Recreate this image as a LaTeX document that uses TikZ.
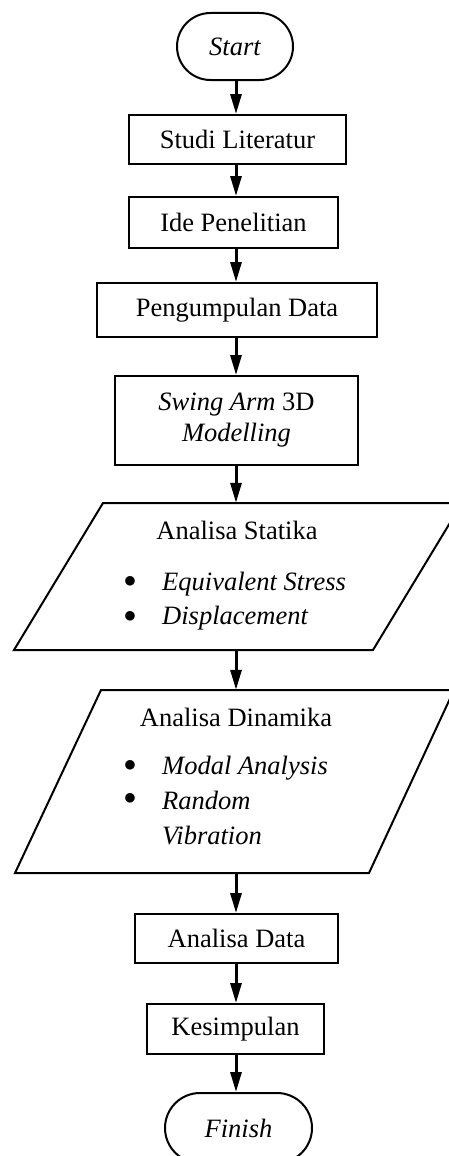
\documentclass[tikz,border=0pt]{standalone}
\usepackage{fontspec}
\setmainfont{Liberation Serif}
\usetikzlibrary{arrows.meta}
\begin{document}
\begin{tikzpicture}[x=1pt,y=-1pt,
  txtbase/.style={font=\fontsize{26.5}{31}\selectfont, inner sep=0pt},
  box/.style={txtbase, draw, line width=2pt, rectangle},
  term/.style={box, font=\fontsize{26.5}{31}\selectfont\itshape},
  flow/.style={-{Triangle[length=20pt,width=11pt]}, line width=3pt},
  para/.style={line width=2pt, line join=miter},
  itemtxt/.style={txtbase, anchor=base west, font=\fontsize{26.5}{31}\selectfont\itshape},
  bul/.style={txtbase, anchor=center, font=\fontsize{32}{32}\selectfont},
  ttl/.style={txtbase, anchor=base}]
\useasboundingbox (0,0) rectangle (449,1156);
\coordinate (axis) at (236,0);

\node[term, minimum width=116pt, minimum height=67pt, rounded corners=33.5pt] (start) at (235,46.5) {Start};
\node[box, minimum width=217pt, minimum height=49pt] (studi) at (237.5,139.5) {Studi Literatur};
\node[box, minimum width=209pt, minimum height=51pt] (ide) at (233.5,222.5) {Ide Penelitian};
\node[box, minimum width=280pt, minimum height=54pt] (peng) at (237,310) {Pengumpulan Data};
\node[box, minimum width=243pt, minimum height=89pt, align=center] (swing) at (236.5,420.5) {\textit{Swing Arm} 3D\\\textit{Modelling}};

% Analisa Statika (parallelogram)
\node[inner sep=0pt, minimum width=10pt, minimum height=147pt] (stat) at (236,576.5) {};
\draw[para] (103,503) -- (462,503) -- (373,650) -- (14,650) -- cycle;
\node[ttl] (stattitle) at (237,539) {Analisa Statika};
\node[bul] (b1) at (130,582) {$\bullet$};
\node[itemtxt] (s1) at (162,590) {Equivalent Stress};
\node[bul] (b2) at (130,617) {$\bullet$};
\node[itemtxt] (s2) at (162,624) {Displacement};

% Analisa Dinamika (parallelogram)
\node[inner sep=0pt, minimum width=10pt, minimum height=183pt] (dyn) at (236,781.5) {};
\draw[para] (101,690) -- (454,690) -- (369,873) -- (15,873) -- cycle;
\node[ttl] (dyntitle) at (236,726) {Analisa Dinamika};
\node[bul] (b3) at (130,766) {$\bullet$};
\node[itemtxt] (d1) at (162,774) {Modal Analysis};
\node[bul] (b4) at (130,799) {$\bullet$};
\node[itemtxt] (d2) at (162,809) {Random};
\node[itemtxt] (d3) at (162,844) {Vibration};

\node[box, minimum width=203pt, minimum height=49pt] (adata) at (236.5,938.5) {Analisa Data};
\node[box, minimum width=177pt, minimum height=50pt] (kes) at (235.5,1029) {Kesimpulan};
\node[term, minimum width=147pt, minimum height=70pt, rounded corners=35pt] (finish) at (238.5,1128) {Finish};

\draw[flow] (start.south -| axis) -- (studi.north -| axis);
\draw[flow] (studi.south -| axis) -- (ide.north -| axis);
\draw[flow] (ide.south -| axis) -- (peng.north -| axis);
\draw[flow] (peng.south -| axis) -- (swing.north -| axis);
\draw[flow] (swing.south -| axis) -- (stat.north -| axis);
\draw[flow] (stat.south -| axis) -- (dyn.north -| axis);
\draw[flow] (dyn.south -| axis) -- (adata.north -| axis);
\draw[flow] (adata.south -| axis) -- (kes.north -| axis);
\draw[flow] (kes.south -| axis) -- (finish.north -| axis);
\end{tikzpicture}
\end{document}
